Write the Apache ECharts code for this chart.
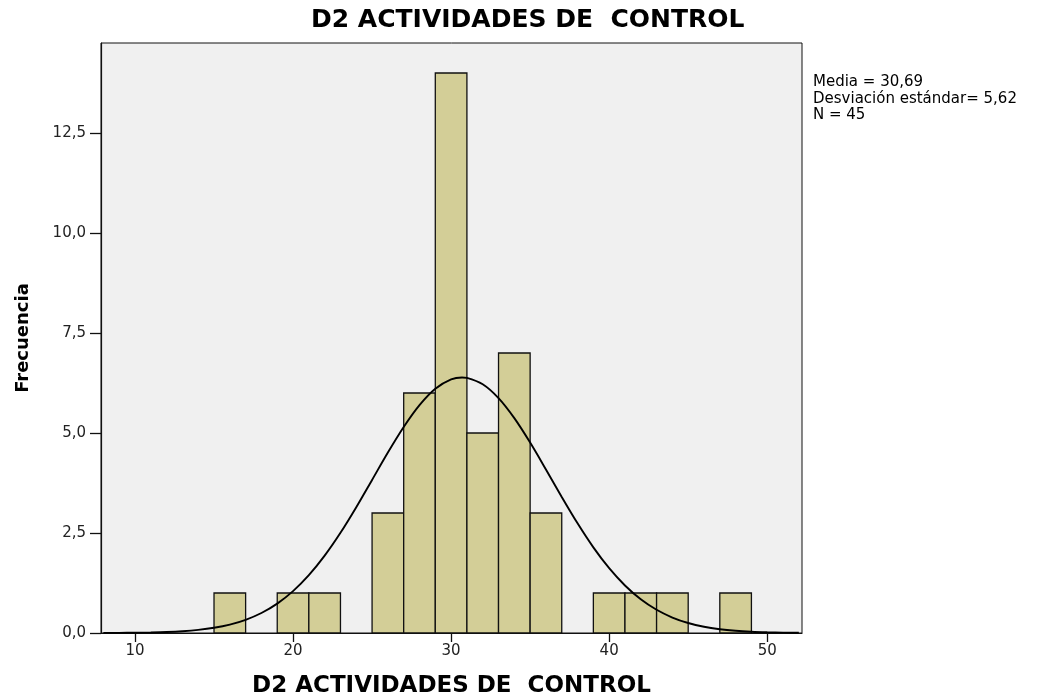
<!DOCTYPE html>
<html>
<head>
<meta charset="utf-8">
<script src="https://cdn.jsdelivr.net/npm/echarts@6/dist/echarts.min.js"></script>
<style>html,body{margin:0;padding:0;background:#fff;}#c{width:1042px;height:698px;}</style>
</head>
<body>
<div id="c"></div>
<script>
// Histogram bins (width 2) and counts
var binStart = [15, 17, 19, 21, 23, 25, 27, 29, 31, 33, 35, 37, 39, 41, 43, 45, 47];
var binEnd   = [17, 19, 21, 23, 25, 27, 29, 31, 33, 35, 37, 39, 41, 43, 45, 47, 49];
var counts   = [1, 0, 1, 1, 0, 3, 6, 14, 5, 7, 3, 0, 1, 1, 1, 0, 1];

// Normal curve
var curveX = [8, 9, 10, 11, 12, 13, 14, 15, 16, 17, 18, 19, 20, 21, 22, 23, 24, 25, 26, 27, 28, 29, 30,
              30.69, 31, 32, 33, 34, 35, 36, 37, 38, 39, 40, 41, 42, 43, 44, 45, 46, 47, 48, 49, 50, 51, 52];
var curveY = [0.002, 0.004, 0.007, 0.014, 0.025, 0.045, 0.078, 0.13, 0.21, 0.33, 0.50, 0.735, 1.047, 1.445,
              1.934, 2.505, 3.145, 3.827, 4.511, 5.15, 5.697, 6.107, 6.341, 6.389, 6.379, 6.218, 5.872, 5.371,
              4.761, 4.089, 3.402, 2.742, 2.141, 1.62, 1.188, 0.843, 0.58, 0.387, 0.25, 0.156, 0.095,
              0.056, 0.032, 0.018, 0.009, 0.005];

var xTicks = [10, 20, 30, 40, 50];
var yTicks = [0, 2.5, 5, 7.5, 10, 12.5];

var titleText = 'D2 ACTIVIDADES DE  CONTROL';
var xName = 'D2 ACTIVIDADES DE  CONTROL';
var yName = 'Frecuencia';
var statLines = ['Media = 30,69', 'Desviación estándar= 5,62', 'N = 45'];

var barData = binStart.map(function (s, i) { return [s, binEnd[i], counts[i]]; }).filter(function (d) { return d[2] > 0; });
var lineData = curveX.map(function (x, i) { return [x, curveY[i]]; });

var chart = echarts.init(document.getElementById('c'), null, {renderer: 'canvas'});
var FONT = 'DejaVu Sans';
chart.setOption({
  animation: false,
  backgroundColor: '#ffffff',
  title: {
    text: titleText, left: 311, top: 8, padding: 0,
    textStyle: {fontFamily: FONT, fontWeight: 'bold', fontSize: 25, color: '#000'}
  },
  graphic: [{
    type: 'text', left: 813, top: 74,
    style: {text: statLines.join('\n'), fontFamily: FONT, fontSize: 15, lineHeight: 16.5, fill: '#000'}
  }],
  grid: {left: 101, top: 43, right: 240, bottom: 65, containLabel: false, outerBoundsMode: 'none',
    show: true, backgroundColor: '#F0F0F0', borderColor: '#111', borderWidth: 1},
  xAxis: {
    type: 'value', min: 7.85, max: 52.2,
    name: xName, nameLocation: 'middle', nameGap: 42,
    nameTextStyle: {fontFamily: FONT, fontWeight: 'bold', fontSize: 23, color: '#000'},
    axisLine: {show: true, lineStyle: {color: '#111', width: 1.2}},
    axisTick: {show: true, length: 9, customValues: xTicks, lineStyle: {color: '#111', width: 1.3}},
    axisLabel: {customValues: xTicks, margin: 11, fontFamily: FONT, fontSize: 15, color: '#222'},
    splitLine: {show: false}
  },
  yAxis: {
    type: 'value', min: 0, max: 14.75,
    name: yName, nameLocation: 'middle', nameGap: 69,
    nameTextStyle: {fontFamily: FONT, fontWeight: 'bold', fontSize: 18, color: '#000'},
    axisLine: {show: true, lineStyle: {color: '#111', width: 1.2}},
    axisTick: {show: true, length: 11, customValues: yTicks, lineStyle: {color: '#111', width: 1.3}},
    axisLabel: {customValues: yTicks, margin: 15, fontFamily: FONT, fontSize: 15, color: '#222',
      formatter: function (v) { return v.toFixed(1).replace('.', ','); }},
    splitLine: {show: false}
  },
  series: [{
    type: 'custom',
    data: barData,
    encode: {x: [0, 1], y: 2},
    renderItem: function (params, api) {
      var p0 = api.coord([api.value(0), api.value(2)]);
      var p1 = api.coord([api.value(1), 0]);
      return {
        type: 'rect',
        shape: {x: p0[0], y: p0[1], width: p1[0] - p0[0], height: p1[1] - p0[1]},
        style: {fill: '#D3CE97', stroke: '#111', lineWidth: 1.3}
      };
    },
    z: 2
  }, {
    type: 'line',
    data: lineData,
    smooth: 0.3,
    showSymbol: false,
    symbol: 'none',
    lineStyle: {color: '#000', width: 1.9},
    z: 3
  }]
});
</script>
</body>
</html>
